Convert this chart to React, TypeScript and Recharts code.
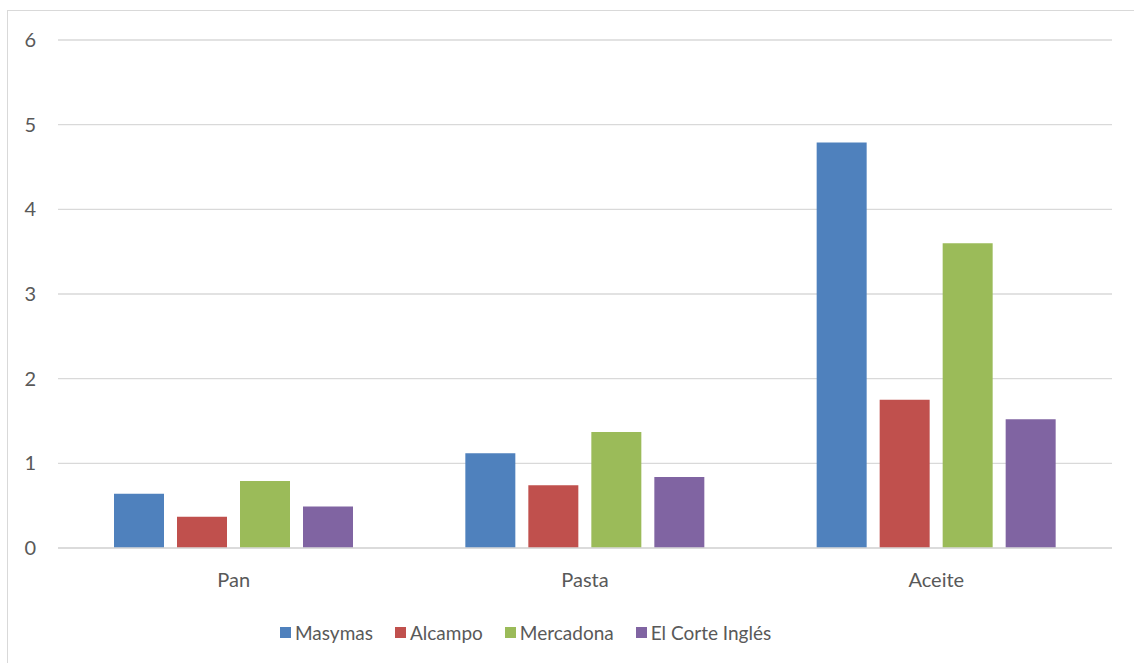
import { Bar, BarChart, CartesianGrid, Legend, XAxis, YAxis } from "recharts";

const categories = ["Pan", "Pasta", "Aceite"];
const masymas = [0.64, 1.12, 4.79];
const alcampo = [0.37, 0.74, 1.75];
const mercadona = [0.79, 1.37, 3.6];
const corteIngles = [0.49, 0.84, 1.52];
const yTicks = [0, 1, 2, 3, 4, 5, 6];

const series = [
  { key: "Masymas", values: masymas, color: "#4F81BD" },
  { key: "Alcampo", values: alcampo, color: "#C0504D" },
  { key: "Mercadona", values: mercadona, color: "#9BBB59" },
  { key: "El Corte Inglés", values: corteIngles, color: "#8064A2" },
];

const data = categories.map((name, i) => {
  const row: Record<string, string | number> = { name };
  series.forEach((s) => {
    row[s.key] = s.values[i];
  });
  return row;
});

const FONT = "Lato, 'Liberation Sans', sans-serif";
const TEXT = "#595959";

function LegendContent() {
  return (
    <div
      style={{
        display: "flex",
        justifyContent: "flex-start",
        paddingLeft: 280,
        fontFamily: FONT,
        fontSize: 19,
        color: TEXT,
      }}
    >
      {series.map((s) => (
        <div
          key={s.key}
          style={{ display: "flex", alignItems: "center", marginRight: 22 }}
        >
          <span
            style={{
              width: 11,
              height: 11,
              background: s.color,
              marginRight: 4,
              display: "inline-block",
            }}
          />
          <span>{s.key}</span>
        </div>
      ))}
    </div>
  );
}

export default function App() {
  return (
    <div
      style={{
        position: "absolute",
        left: 0,
        top: 0,
        width: 1134,
        height: 663,
        background: "#fff",
        overflow: "hidden",
      }}
    >
      <div
        style={{
          position: "absolute",
          left: 7,
          top: 10,
          width: 1140,
          height: 670,
          border: "1.5px solid #d9d9d9",
          boxSizing: "border-box",
        }}
      />
      <BarChart
        width={1134}
        height={663}
        data={data}
        margin={{ top: 40, right: 22, left: 0, bottom: 75 }}
        barSize={50}
        barGap={13}
      >
        <CartesianGrid vertical={false} stroke="#d9d9d9" strokeWidth={1.3} />
        <XAxis
          dataKey="name"
          height={40}
          tickLine={false}
          axisLine={{ stroke: "#d9d9d9", strokeWidth: 1.3 }}
          tick={{ fill: TEXT, fontSize: 20, fontFamily: FONT }}
          tickMargin={19}
        />
        <YAxis
          width={58}
          domain={[0, 6]}
          ticks={yTicks}
          tickLine={false}
          axisLine={false}
          tickSize={0}
          tickMargin={22}
          tick={{ fill: TEXT, fontSize: 20, fontFamily: FONT }}
        />
        <Legend
          verticalAlign="middle"
          align="center"
          layout="horizontal"
          content={LegendContent}
          wrapperStyle={{ top: 621, left: 0, width: 1134 }}
        />
        {series.map((s) => (
          <Bar
            key={s.key}
            dataKey={s.key}
            fill={s.color}
            isAnimationActive={false}
          />
        ))}
      </BarChart>
    </div>
  );
}
